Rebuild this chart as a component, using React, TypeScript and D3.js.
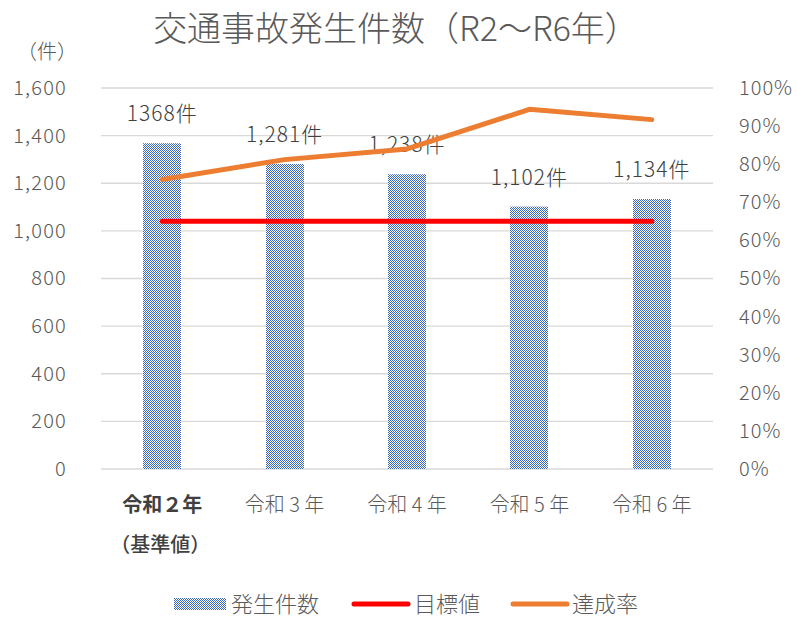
import { useEffect, useRef } from "react";
import * as d3 from "d3";

const categories = ["令和２年", "令和 3 年", "令和 4 年", "令和 5 年", "令和 6 年"];
const accidents = [1368, 1281, 1238, 1102, 1134];
const barLabels = ["1368件", "1,281件", "1,238件", "1,102件", "1,134件"];
const target = [1040, 1040, 1040, 1040, 1040];
const achieveRate = [0.76, 0.812, 0.84, 0.944, 0.917];
const leftTicks = [0, 200, 400, 600, 800, 1000, 1200, 1400, 1600];
const rightTicks = [0, 0.1, 0.2, 0.3, 0.4, 0.5, 0.6, 0.7, 0.8, 0.9, 1.0];

const W = 797, H = 617;
const FONT = "'Noto Sans CJK JP', 'Noto Sans', sans-serif";
const GRAY = "#595959";

function App() {
  const ref = useRef<SVGSVGElement>(null);

  useEffect(() => {
    const svg = d3.select(ref.current);
    svg.selectAll("*").remove();

    const left = 101, right = 713, top = 88, bottom = 469;

    const x = d3.scaleBand().domain(categories).range([left, right]);
    const y = d3.scaleLinear().domain([0, 1600]).range([bottom, top]);
    const y2 = d3.scaleLinear().domain([0, 1]).range([bottom, top]);
    const cx = (c: string) => (x(c) as number) + x.bandwidth() / 2;

    // checker pattern for bars
    const pat = svg.append("defs").append("pattern")
      .attr("id", "checker").attr("width", 2).attr("height", 2)
      .attr("patternUnits", "userSpaceOnUse");
    pat.append("rect").attr("width", 2).attr("height", 2).attr("fill", "#fff");
    pat.append("rect").attr("width", 1).attr("height", 1).attr("fill", "#3A66B8");
    pat.append("rect").attr("x", 1).attr("y", 1).attr("width", 1).attr("height", 1).attr("fill", "#3A66B8");

    // title
    svg.append("text").attr("x", 396).attr("y", 41)
      .attr("text-anchor", "middle").attr("font-size", 34).attr("fill", GRAY)
      .attr("font-weight", 300)
      .attr("font-family", FONT).text("交通事故発生件数（R2〜R6年）");

    // grid
    svg.append("g").selectAll("line").data(leftTicks).join("line")
      .attr("x1", left).attr("x2", right)
      .attr("y1", d => y(d)).attr("y2", d => y(d))
      .attr("stroke", "#d9d9d9").attr("stroke-width", 1.3);

    // left axis
    const yAxis = svg.append("g").attr("transform", `translate(${left - 31},0)`)
      .call(d3.axisLeft(y).tickValues(leftTicks).tickSize(0).tickFormat(d3.format(",")));
    yAxis.select(".domain").remove();
    yAxis.selectAll("text").attr("font-size", 20).attr("letter-spacing", 1.2)
      .attr("font-weight", 300).attr("fill", GRAY).attr("font-family", FONT);

    svg.append("text").attr("x", 47).attr("y", 59).attr("text-anchor", "middle")
      .attr("font-size", 20).attr("font-weight", 300).attr("fill", GRAY).attr("font-family", FONT).text("（件）");

    // right axis
    const y2Axis = svg.append("g").attr("transform", `translate(${right + 23},0)`)
      .call(d3.axisRight(y2).tickValues(rightTicks).tickSize(0).tickFormat(d3.format(".0%")));
    y2Axis.select(".domain").remove();
    y2Axis.selectAll("text").attr("font-size", 20).attr("letter-spacing", 1)
      .attr("font-weight", 300).attr("fill", GRAY).attr("font-family", FONT);

    // x axis labels
    const xl = svg.append("g");
    categories.forEach((c, i) => {
      xl.append("text").attr("x", cx(c)).attr("y", 512).attr("text-anchor", "middle")
        .attr("font-size", 20).attr("font-family", FONT)
        .attr("fill", i === 0 ? "#404040" : GRAY)
        .attr("font-weight", i === 0 ? "bold" : 300)
        .text(c);
    });
    xl.append("text").attr("x", cx(categories[0]) - 2).attr("y", 552).attr("text-anchor", "middle")
      .attr("font-size", 20).attr("font-family", FONT).attr("fill", "#404040")
      .attr("font-weight", 500).text("（基準値）");

    // bars
    const bw = 38;
    svg.append("g").selectAll("rect").data(accidents).join("rect")
      .attr("x", (d, i) => Math.round(cx(categories[i]) - bw / 2))
      .attr("y", d => y(d)).attr("width", bw)
      .attr("height", d => bottom - y(d))
      .attr("fill", "url(#checker)");

    // bar labels
    svg.append("g").selectAll("text").data(accidents).join("text")
      .attr("x", (d, i) => cx(categories[i]))
      .attr("y", d => y(d) - 22)
      .attr("text-anchor", "middle").attr("font-size", 21).attr("letter-spacing", 1)
      .attr("font-weight", 300)
      .attr("fill", "#404040").attr("font-family", FONT)
      .text((d, i) => barLabels[i]);

    // target line
    const line = d3.line<number>().x((d, i) => cx(categories[i])).y(d => y(d));
    svg.append("path").datum(target).attr("d", line)
      .attr("fill", "none").attr("stroke", "#FF0000").attr("stroke-width", 5)
      .attr("stroke-linecap", "round");

    // achievement rate
    const line2 = d3.line<number>().x((d, i) => cx(categories[i])).y(d => y2(d));
    svg.append("path").datum(achieveRate).attr("d", line2)
      .attr("fill", "none").attr("stroke", "#ED7D31").attr("stroke-width", 5)
      .attr("stroke-linecap", "round").attr("stroke-linejoin", "round");

    // legend
    const lg = svg.append("g").attr("font-family", FONT).attr("font-size", 22)
      .attr("font-weight", 300).attr("fill", GRAY);
    lg.append("rect").attr("x", 174).attr("y", 598).attr("width", 52).attr("height", 12).attr("fill", "url(#checker)");
    lg.append("text").attr("x", 231).attr("y", 612).text("発生件数");
    lg.append("line").attr("x1", 354).attr("x2", 408).attr("y1", 604).attr("y2", 604)
      .attr("stroke", "#FF0000").attr("stroke-width", 5).attr("stroke-linecap", "round");
    lg.append("text").attr("x", 414).attr("y", 612).text("目標値");
    lg.append("line").attr("x1", 513).attr("x2", 567).attr("y1", 604).attr("y2", 604)
      .attr("stroke", "#ED7D31").attr("stroke-width", 5).attr("stroke-linecap", "round");
    lg.append("text").attr("x", 572).attr("y", 612).text("達成率");
  }, []);

  return (
    <svg ref={ref} width={W} height={H}
      style={{ position: "absolute", left: 0, top: 0, background: "#fff" }} />
  );
}

export default App;
